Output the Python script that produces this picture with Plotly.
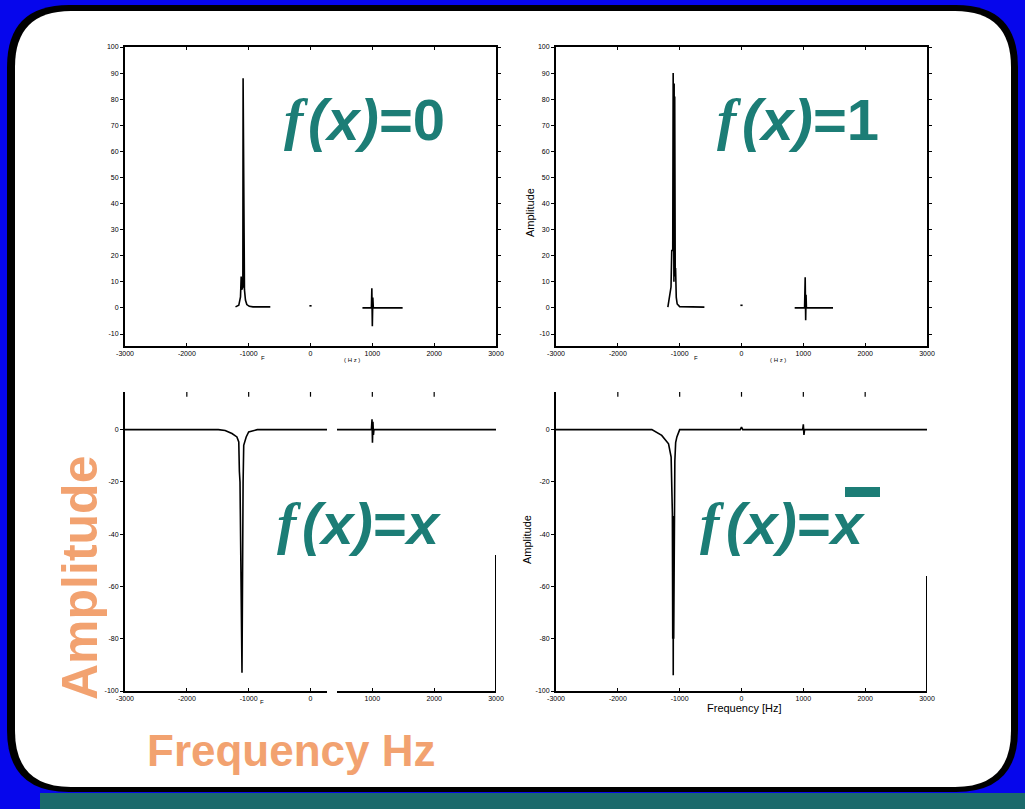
import plotly.graph_objects as go

W, H = 1025, 809

# ---------------- data ----------------
x_ticks = [-3000, -2000, -1000, 0, 1000, 2000, 3000]
x_tick_text = ["-3000", "-2000", "-1000", "0", "1000", "2000", "3000"]
top_y_ticks = [100, 90, 80, 70, 60, 50, 40, 30, 20, 10, 0, -10]
top_y_text = ["100", "90", "80", "70", "60", "50", "40", "30", "20", "10", "0", "-10"]
bot_y_ticks = [0, -20, -40, -60, -80, -100]
bot_y_text = ["0", "-20", "-40", "-60", "-80", "-100"]

# f(x)=0  (top left)
tl_x = [-1213, -1160, -1132, -1121, -1112, -1094, -1090, -1086, -1074, -1068, -1052, -1030, -990, -930, -650,
        None, -18, 18,
        None, 840, 985, 992, 1000, 1008, 1016, 1490]
tl_y = [0.4, 1.0, 4.2, 12.0, 7.0, 8.0, 88.0, 29.0, 29.0, 7.0, 3.0, 1.3, 0.6, 0.4, 0.4,
        None, 0.8, 0.8,
        None, 0.0, 0.0, 7.5, -7.0, 4.0, 0.0, 0.0]

# f(x)=1  (top right)
tr_x = [-1191, -1170, -1140, -1128, -1112, -1105, -1101, -1097, -1093, -1089, -1085, -1080, -1072, -1066, -1055,
        -1040, -1000, -600,
        None, -18, 18,
        None, 860, 1020, 1030, 1038, 1044, 1050, 1056, 1480]
tr_y = [0.3, 4.0, 8.0, 22.0, 22.0, 90.0, 10.0, 89.0, 10.0, 86.0, 12.0, 81.0, 15.0, 15.0, 4.0,
        1.5, 0.5, 0.3,
        None, 1.0, 1.0,
        None, 0.0, 0.0, 11.7, -4.7, 5.0, 0.0, 0.0, 0.0]

# f(x)=x  (bottom left)
bl_x = [-3000, -1490, -1380, -1270, -1190, -1160, -1150, -1140, -1108, -1100, -1090, -1080, -1040, -1000, -860,
        985, 995, 1002, 1010, 1018, 1026, 3000]
bl_y = [0.0, 0.0, -0.3, -1.5, -2.8, -4.7, -16.0, -20.0, -93.0, -21.0, -20.0, -6.0, -2.8, -0.9, 0.0,
        0.0, 4.0, -5.0, 3.0, -2.0, 0.0, 0.0]

# f(x)=x-bar  (bottom right)
br_x = [-3000, -1450, -1290, -1180, -1138, -1118, -1112, -1108, -1104, -1100, -1096, -1092, -1088, -1084, -1078,
        -1065, -1045, -1000, -20, 0, 20, 990, 1000, 1010, 1020, 3000]
br_y = [0.0, 0.0, -2.2, -5.4, -10.5, -32.0, -80.0, -33.0, -94.0, -34.0, -80.0, -35.0, -75.0, -30.0, -12.0,
        -5.0, -2.8, 0.0, 0.0, 1.0, 0.0, 0.0, 2.0, -2.0, 0.0, 0.0]

labels_rest = ["<i>(x)</i>=0", "<i>(x)</i>=1", "<i>(x)</i>=<i>x</i>", "<i>(x)</i>=<i>x</i>"]

TEAL = "#1c7d76"
ORANGE = "#f2a270"
BLUE = "#0606ec"


def fx(p):
    return p / W


def fy(p):
    return 1 - p / H


def rounded(x0, y0, x1, y1, r):
    return (f"M {fx(x0 + r)},{fy(y0)} L {fx(x1 - r)},{fy(y0)} "
            f"Q {fx(x1)},{fy(y0)} {fx(x1)},{fy(y0 + r)} L {fx(x1)},{fy(y1 - r)} "
            f"Q {fx(x1)},{fy(y1)} {fx(x1 - r)},{fy(y1)} L {fx(x0 + r)},{fy(y1)} "
            f"Q {fx(x0)},{fy(y1)} {fx(x0)},{fy(y1 - r)} L {fx(x0)},{fy(y0 + r)} "
            f"Q {fx(x0)},{fy(y0)} {fx(x0 + r)},{fy(y0)} Z")


fig = go.Figure()
line = dict(color="black", width=1.6)
fig.add_trace(go.Scatter(x=tl_x, y=tl_y, mode="lines", line=line, xaxis="x", yaxis="y", connectgaps=False))
fig.add_trace(go.Scatter(x=tr_x, y=tr_y, mode="lines", line=line, xaxis="x2", yaxis="y2", connectgaps=False))
fig.add_trace(go.Scatter(x=bl_x, y=bl_y, mode="lines", line=line, xaxis="x3", yaxis="y3"))
fig.add_trace(go.Scatter(x=br_x, y=br_y, mode="lines", line=line, xaxis="x4", yaxis="y4"))

tickfont = dict(family="Liberation Sans", size=7, color="black")
dom_left = [fx(125), fx(496)]
dom_right = [fx(556), fx(927)]
dom_top = [fy(346), fy(47)]
dom_bot = [fy(691), fy(392)]


def xax(domain, anchor, mirror):
    return dict(domain=domain, anchor=anchor, range=[-3000, 3000], tickvals=x_ticks, ticktext=x_tick_text,
                ticks="inside", ticklen=3, tickwidth=1.2, tickcolor="black", showline=True, linecolor="black",
                linewidth=2, mirror=mirror, showgrid=False, zeroline=False, tickfont=tickfont, automargin=False)


def yax(domain, anchor, rng, vals, text, mirror):
    return dict(domain=domain, anchor=anchor, range=rng, tickvals=vals, ticktext=text,
                ticks="outside", ticklen=3, tickwidth=1.2, tickcolor="black", showline=True, linecolor="black",
                linewidth=2, mirror=mirror, showgrid=False, zeroline=False, tickfont=tickfont, automargin=False)


fig.update_layout(
    template="none",
    width=W, height=H, autosize=False, margin=dict(l=0, r=0, t=0, b=0, pad=0),
    paper_bgcolor=BLUE, plot_bgcolor="rgba(0,0,0,0)", showlegend=False,
    xaxis=xax(dom_left, "y", "ticks"),
    yaxis=yax(dom_top, "x", [-14.6, 100], top_y_ticks, top_y_text, "ticks"),
    xaxis2=xax(dom_right, "y2", "ticks"),
    yaxis2=yax(dom_top, "x2", [-14.6, 100], top_y_ticks, top_y_text, "ticks"),
    xaxis3=xax(dom_left, "y3", False),
    yaxis3=yax(dom_bot, "x3", [-100, 14.4], bot_y_ticks, bot_y_text, False),
    xaxis4=xax(dom_right, "y4", False),
    yaxis4=yax(dom_bot, "x4", [-100, 14.4], bot_y_ticks, bot_y_text, False),
)

shapes = [
    dict(type="rect", xref="paper", yref="paper", x0=fx(40), x1=1, y0=0, y1=fy(793),
         fillcolor="#1b6a6c", line=dict(width=0), layer="below"),
    dict(type="path", xref="paper", yref="paper", path=rounded(7, 5, 1018, 792, 62),
         fillcolor="black", line=dict(width=0), layer="below"),
    dict(type="path", xref="paper", yref="paper", path=rounded(15, 11, 1011, 787, 56),
         fillcolor="white", line=dict(width=0), layer="below"),
    # erased strip in bottom-left panel
    dict(type="rect", xref="paper", yref="paper", x0=fx(327), x1=fx(337), y0=fy(700), y1=fy(415),
         fillcolor="white", line=dict(width=0), layer="above"),
    # partial right frame lines of the bottom panels
    dict(type="line", xref="x3", yref="y3", x0=3000, x1=3000, y0=-100, y1=-48,
         line=dict(color="black", width=2)),
    dict(type="line", xref="x4", yref="y4", x0=3000, x1=3000, y0=-100, y1=-56,
         line=dict(color="black", width=2)),
    # overbar of x-bar
    dict(type="rect", xref="paper", yref="paper", x0=fx(845), x1=fx(880), y0=fy(497), y1=fy(487),
         fillcolor=TEAL, line=dict(width=0)),
]
for ax in ["3", "4"]:
    for t in x_ticks[1:-1]:
        shapes.append(dict(type="line", xref="x" + ax, yref="y" + ax, x0=t, x1=t, y0=12.6, y1=14.4,
                           line=dict(color="black", width=1.2)))
fig.update_layout(shapes=shapes)

SIZE = 58
fserif = dict(family="Liberation Serif", size=SIZE, color=TEAL, weight="bold", style="italic")
fsans = dict(family="Liberation Sans", size=SIZE, color=TEAL, weight="bold")
# (f centre x, rest left x, centre y) in pixels
label_pos = [(296, 306, 120), (729, 740, 120), (289, 300, 523), (712, 724, 523)]
annotations = []
for (fcx, rx, cy), rest in zip(label_pos, labels_rest):
    annotations.append(dict(text="f", x=fx(fcx), y=fy(cy), xanchor="center", yanchor="middle", font=fserif))
    annotations.append(dict(text=rest, x=fx(rx), y=fy(cy), xanchor="left", yanchor="middle", font=fsans))

small = dict(family="Liberation Sans", size=11, color="black")
tiny = dict(family="Liberation Sans", size=6, color="black")
annotations += [
    dict(text="Amplitude", x=fx(80), y=fy(578), textangle=-90,
         font=dict(family="Liberation Sans", size=50, color=ORANGE, weight="bold")),
    dict(text="Frequency Hz", x=fx(291), y=fy(750),
         font=dict(family="Liberation Sans", size=44, color=ORANGE, weight="bold")),
    dict(text="Amplitude", x=fx(530), y=fy(213), textangle=-90, font=small),
    dict(text="Amplitude", x=fx(527), y=fy(540), textangle=-90, font=small),
    dict(text="Frequency [Hz]", x=fx(744), y=fy(708), font=small),
    dict(text="F", x=fx(263), y=fy(358), font=tiny),
    dict(text="( H z )", x=fx(352), y=fy(360), font=tiny),
    dict(text="F", x=fx(696), y=fy(358), font=tiny),
    dict(text="( H z )", x=fx(778), y=fy(360), font=tiny),
    dict(text="F", x=fx(262), y=fy(702), font=tiny),
]
for a in annotations:
    a.update(xref="paper", yref="paper", showarrow=False)
    a.setdefault("xanchor", "center")
    a.setdefault("yanchor", "middle")
fig.update_layout(annotations=annotations)

fig.write_html(
    "out.html",
    config={"responsive": False, "displayModeBar": False},
    default_width="1025px",
    default_height="809px",
    post_script="document.body.style.margin='0px';document.body.style.overflow='hidden';",
)
